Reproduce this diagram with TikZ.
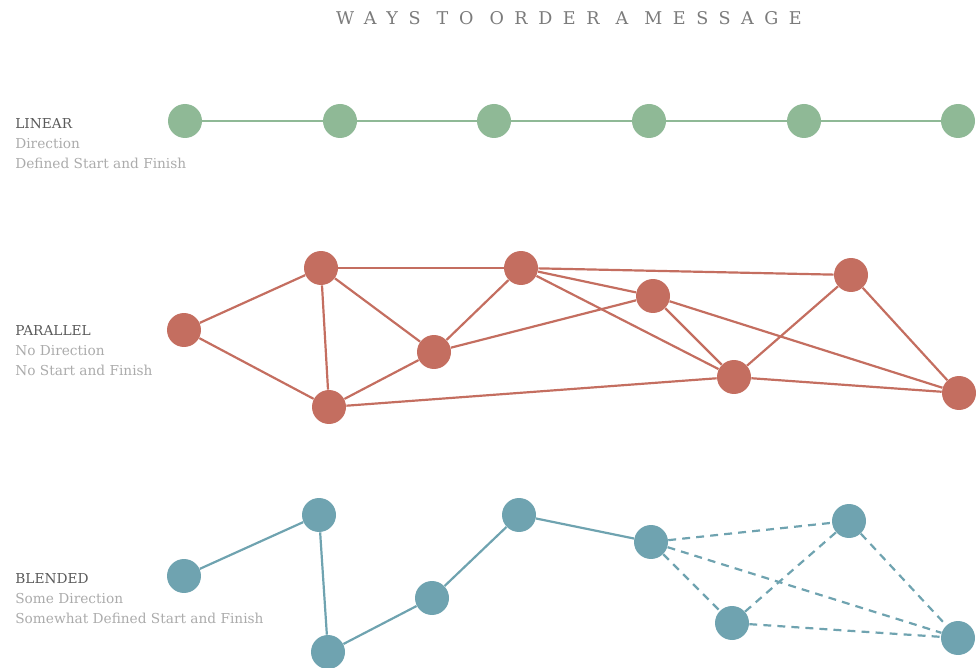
\documentclass[tikz,border=0pt]{standalone}
\usepackage{fontspec}
\setmainfont{DejaVu Serif}
\newfontfamily\titlefont[LetterSpace=60]{DejaVu Serif}
\usetikzlibrary{positioning}
\definecolor{lingreen}{HTML}{8FB996}
\definecolor{parred}{HTML}{C46E60}
\definecolor{blendblue}{HTML}{6FA3B0}
\definecolor{headgray}{HTML}{5A5A5A}
\definecolor{subgray}{HTML}{ABABAB}
\tikzset{
    % Dots
    dot/.style    = {circle, inner sep=0pt, minimum size=0.68cm},
    lindot/.style = {dot, fill=lingreen},
    pardot/.style = {dot, fill=parred},
    bldot/.style  = {dot, fill=blendblue},
    % Links
    linlink/.style = {line width=1.25pt, lingreen},
    parlink/.style = {line width=1.25pt, parred},
    bllink/.style  = {line width=1.25pt, blendblue},
    dashlink/.style = {bllink, dashed, dash pattern=on 4.5pt off 3.5pt},
    % Labels
    caption/.style = {anchor=north west, inner sep=0pt, align=left,
        font=\fontsize{7.8}{11.3}\selectfont, text=subgray}
}

\begin{document}
\begin{tikzpicture}[x=0.02cm, y=-0.02cm]
    \useasboundingbox (0,0) rectangle (976,668);

    \node (title) at (569,18) {\titlefont\fontsize{10}{12}\selectfont\color{headgray!80}WAYS TO ORDER A MESSAGE};

    % Linear
    \node (lin1) [lindot] at (185,121) {};
    \node (lin2) [lindot] at (340,121) {};
    \node (lin3) [lindot] at (494,121) {};
    \node (lin4) [lindot] at (649,121) {};
    \node (lin5) [lindot] at (804,121) {};
    \node (lin6) [lindot] at (958,121) {};
    \draw [linlink] (lin1) -- (lin2) -- (lin3) -- (lin4) -- (lin5) -- (lin6);
    \node (lincap) [caption] at (15,118) {\textcolor{headgray}{LINEAR}\\Direction\\Defined Start and Finish};

    % Parallel
    \node (par1) [pardot] at (184,330) {};
    \node (par2) [pardot] at (321,268) {};
    \node (par3) [pardot] at (329,407) {};
    \node (par4) [pardot] at (434,352) {};
    \node (par5) [pardot] at (521,268) {};
    \node (par6) [pardot] at (653,296) {};
    \node (par7) [pardot] at (734,377) {};
    \node (par8) [pardot] at (851,275) {};
    \node (par9) [pardot] at (959,393) {};
    \draw [parlink] (par1) -- (par2);
    \draw [parlink] (par1) -- (par3);
    \draw [parlink] (par2) -- (par3);
    \draw [parlink] (par2) -- (par4);
    \draw [parlink] (par2) -- (par5);
    \draw [parlink] (par3) -- (par4);
    \draw [parlink] (par3) -- (par7);
    \draw [parlink] (par4) -- (par5);
    \draw [parlink] (par4) -- (par6);
    \draw [parlink] (par5) -- (par8);
    \draw [parlink] (par5) -- (par6);
    \draw [parlink] (par5) -- (par7);
    \draw [parlink] (par6) -- (par7);
    \draw [parlink] (par6) -- (par9);
    \draw [parlink] (par7) -- (par8);
    \draw [parlink] (par7) -- (par9);
    \draw [parlink] (par8) -- (par9);
    \node (parcap) [caption] at (15,325.5) {\textcolor{headgray}{PARALLEL}\\No Direction\\No Start and Finish};

    % Blended
    \node (bl1) [bldot] at (184,576) {};
    \node (bl2) [bldot] at (319,515) {};
    \node (bl3) [bldot] at (328,652) {};
    \node (bl4) [bldot] at (432,598) {};
    \node (bl5) [bldot] at (519,515) {};
    \node (bl6) [bldot] at (651,542) {};
    \node (bl7) [bldot] at (732,623) {};
    \node (bl8) [bldot] at (849,521) {};
    \node (bl9) [bldot] at (958,638) {};
    \draw [bllink] (bl1) -- (bl2) -- (bl3) -- (bl4) -- (bl5) -- (bl6);
    \draw [dashlink] (bl6) -- (bl8);
    \draw [dashlink] (bl6) -- (bl9);
    \draw [dashlink] (bl6) -- (bl7);
    \draw [dashlink] (bl7) -- (bl8);
    \draw [dashlink] (bl7) -- (bl9);
    \draw [dashlink] (bl8) -- (bl9);
    \node (blcap) [caption] at (15,573.5) {\textcolor{headgray}{BLENDED}\\Some Direction\\Somewhat Defined Start and Finish};
\end{tikzpicture}
\end{document}
